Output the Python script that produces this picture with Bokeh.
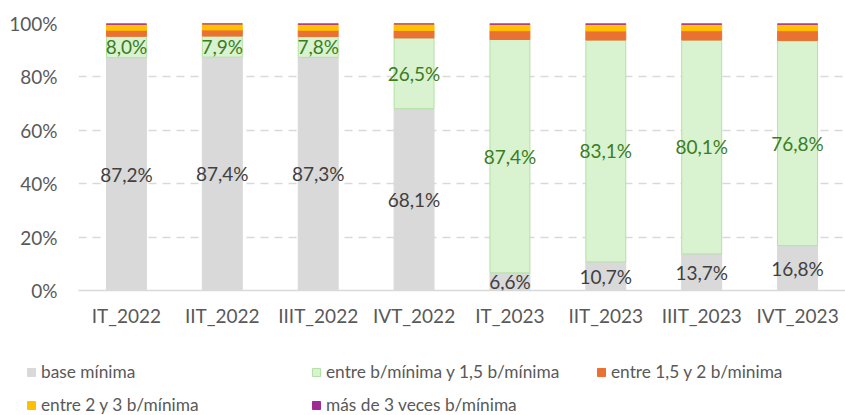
from bokeh.plotting import figure
from bokeh.models import (ColumnDataSource, FixedTicker, PrintfTickFormatter, Legend,
                          LegendItem, LabelSet, Range1d, FactorRange)
from bokeh.core.properties import value
from bokeh.embed import file_html
from bokeh.resources import INLINE

categories = ["IT_2022", "IIT_2022", "IIIT_2022", "IVT_2022",
              "IT_2023", "IIT_2023", "IIIT_2023", "IVT_2023"]
series_names = ["base mínima", "entre b/mínima y 1,5 b/mínima", "entre 1,5 y 2 b/minima",
                "entre 2 y 3 b/mínima", "más de 3 veces b/mínima"]
base_minima = [87.2, 87.4, 87.3, 68.1, 6.6, 10.7, 13.7, 16.8]
entre_1_15 = [8.0, 7.9, 7.8, 26.5, 87.4, 83.1, 80.1, 76.8]
entre_15_2 = [2.3, 2.3, 2.4, 2.8, 3.3, 3.4, 3.5, 3.7]
entre_2_3 = [2.2, 2.2, 2.2, 2.4, 2.4, 2.5, 2.4, 2.4]
mas_de_3 = [0.3, 0.2, 0.3, 0.2, 0.3, 0.3, 0.3, 0.3]
y_ticks = [0, 20, 40, 60, 80, 100]

colors = ["#d9d9d9", "#d9f2d0", "#e97132", "#ffc000", "#a02b93"]
line_colors = ["#d9d9d9", "#b3e2a4", "#e97132", "#ffc000", "#a02b93"]
FONT = "Lato"

def fmt(v):
    return f"{v:.1f}".replace(".", ",") + "%"

keys = ["s0", "s1", "s2", "s3", "s4"]
data = dict(cat=categories, s0=base_minima, s1=entre_1_15, s2=entre_15_2, s3=entre_2_3, s4=mas_de_3)
source = ColumnDataSource(data)

p = figure(x_range=FactorRange(*categories, range_padding=0), y_range=Range1d(0, 100),
           width=845, height=342, output_backend="svg", toolbar_location=None,
           min_border_left=78, min_border_right=0, min_border_top=23, min_border_bottom=52)
p.outline_line_color = None
p.background_fill_color = "white"

rs = p.vbar_stack(keys, x="cat", width=0.4167, color=colors, line_color=line_colors,
                  line_width=1, source=source)

# axes
p.yaxis.ticker = FixedTicker(ticks=y_ticks)
p.yaxis.formatter = PrintfTickFormatter(format="%d%%")
p.yaxis.axis_line_color = None
p.yaxis.major_tick_line_color = None
p.yaxis.minor_tick_line_color = None
p.yaxis.major_tick_out = 0
p.yaxis.minor_tick_out = 0
p.yaxis.major_label_standoff = 21
p.xaxis.axis_line_color = "#d9d9d9"
p.xaxis.axis_line_width = 1.5
p.xaxis.major_tick_line_color = None
p.xaxis.minor_tick_line_color = None
p.xaxis.major_tick_out = 0
p.xaxis.minor_tick_out = 0
p.xaxis.major_label_standoff = 13
for ax in (p.xaxis, p.yaxis):
    ax.major_label_text_font = FONT
    ax.major_label_text_font_size = "19px"
    ax.major_label_text_color = "#595959"

p.xgrid.grid_line_color = None
p.ygrid.ticker = FixedTicker(ticks=[20, 40, 60, 80, 100])
p.ygrid.grid_line_color = "#d9d9d9"
p.ygrid.grid_line_width = 1.5
p.ygrid.grid_line_dash = "8 6"

# data labels
lab_src = ColumnDataSource(dict(
    cat=categories,
    y_base=[b / 2 for b in base_minima],
    t_base=[fmt(b) for b in base_minima],
    y_green=[b + g / 2 for b, g in zip(base_minima, entre_1_15)],
    t_green=[fmt(g) for g in entre_1_15],
))
for ycol, tcol, col in (("y_base", "t_base", "#404040"), ("y_green", "t_green", "#3b7d23")):
    p.add_layout(LabelSet(x="cat", y=ycol, text=tcol, source=lab_src, text_align="center",
                          text_baseline="middle", text_font=value(FONT),
                          text_font_size="19px", text_color=col))

# legend figure (separate root, so its frame starts at the page's left edge)
p2 = figure(width=845, height=73, output_backend="svg", toolbar_location=None,
            x_range=Range1d(0, 1), y_range=Range1d(0, 1),
            x_axis_type=None, y_axis_type=None,
            min_border_left=0, min_border_right=0, min_border_top=0, min_border_bottom=0)
p2.outline_line_color = None
p2.xgrid.grid_line_color = None
p2.ygrid.grid_line_color = None
dummies = [p2.vbar(x=[5], top=[5], bottom=[4], width=0.1, fill_color=c, line_color=lc)
           for c, lc in zip(colors, line_colors)]

legend = Legend(items=[LegendItem(label=n, renderers=[r]) for n, r in zip(series_names, dummies)],
                location=(26, 0), orientation="horizontal", ncols=3,
                glyph_width=10, glyph_height=10, label_standoff=5, spacing=12,
                label_width=258, label_height=16, padding=0, margin=0,
                border_line_alpha=0, background_fill_alpha=0,
                label_text_font=FONT, label_text_font_size="17.3px",
                label_text_color="#595959")
p2.add_layout(legend, "center")

open("out.html", "w").write(file_html([p, p2], INLINE))
